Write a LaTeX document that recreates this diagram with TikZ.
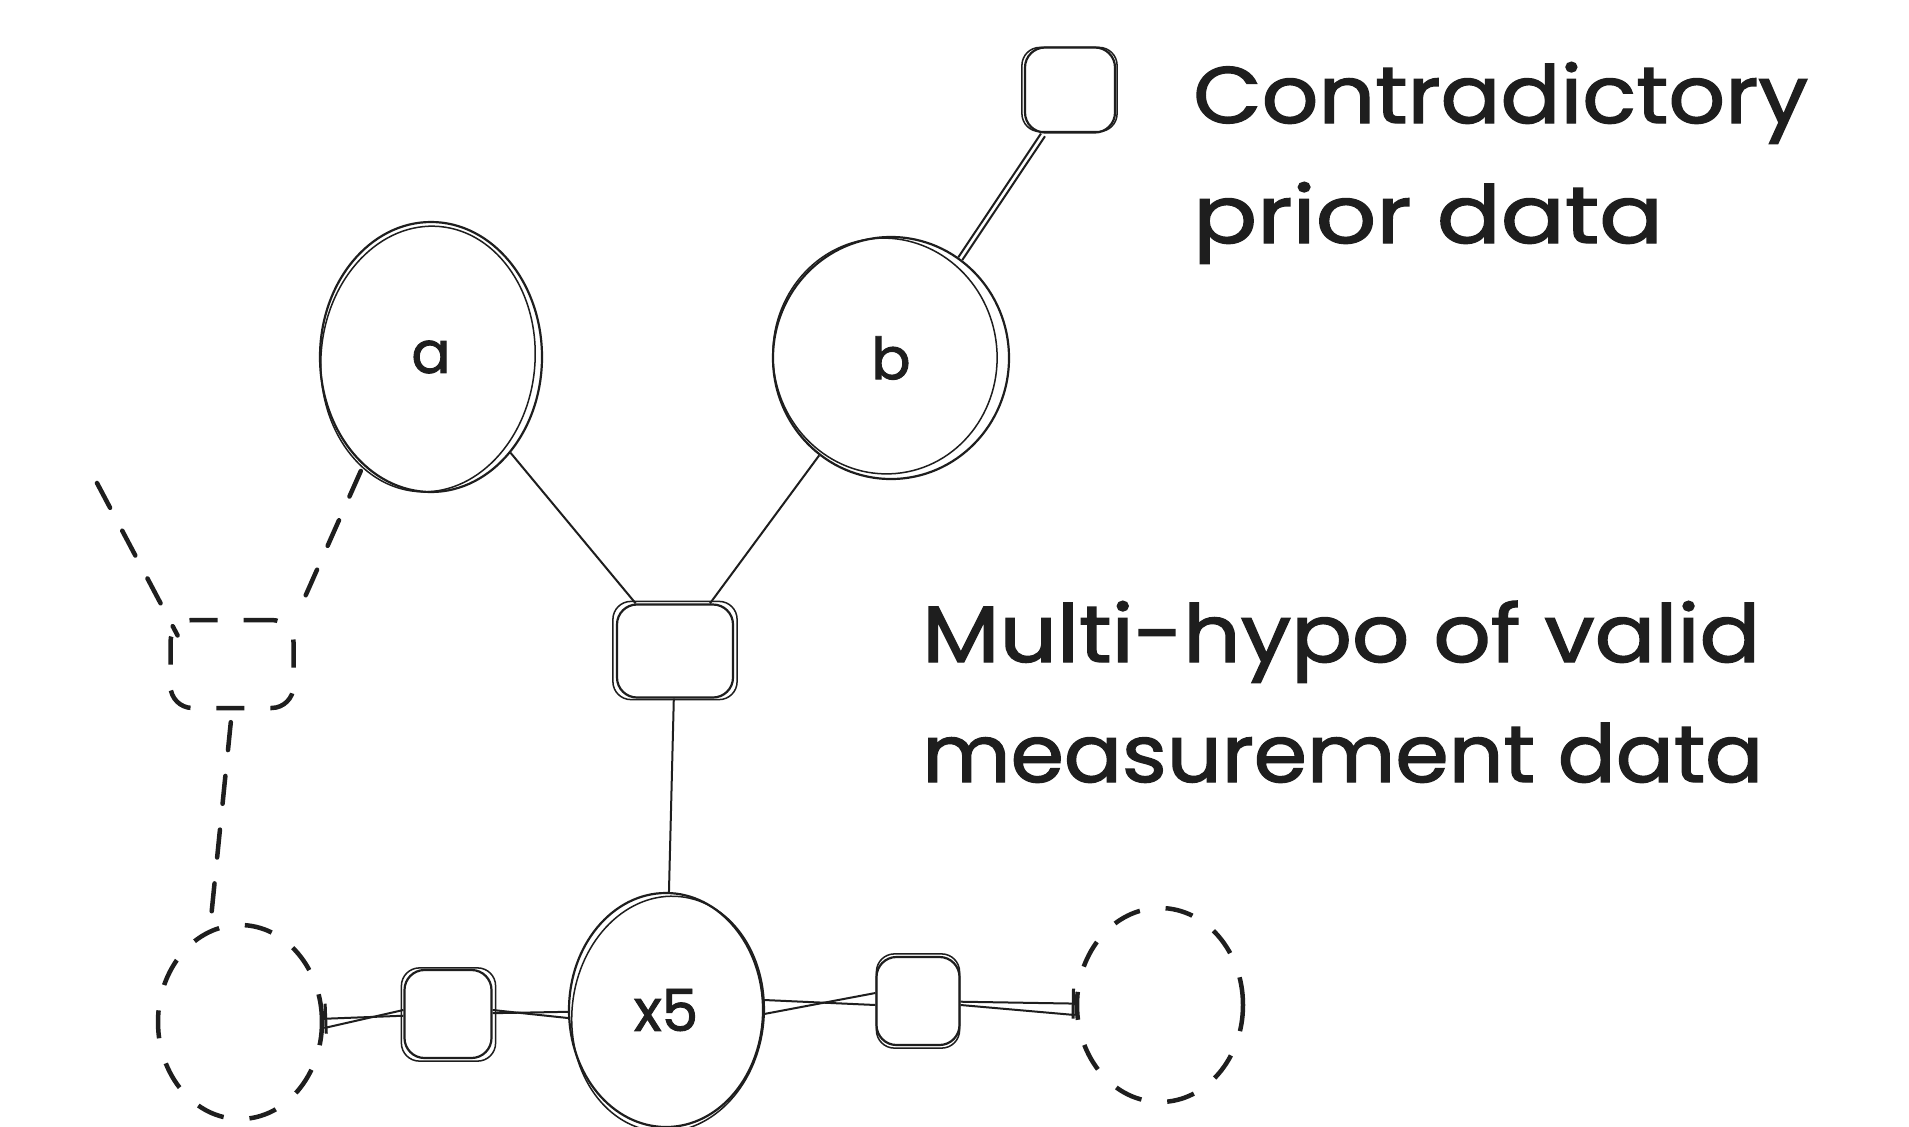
\documentclass[tikz,border=0pt]{standalone}
\usepackage{fontspec}
\setmainfont{Poppins}
\newfontfamily\handfont{Poppins}[FakeBold=1.6]
\usetikzlibrary{shapes.geometric,arrows.meta}
\definecolor{inkc}{HTML}{1E1E1E}
\newcommand\fitw[2]{\resizebox{#1}{\height}{#2}}
\tikzset{
  ink/.style={draw=inkc, line width=2.2pt},
  faint/.style={draw=inkc, line width=1.5pt},
  bubble/.style={ellipse, ink, inner sep=0pt, text=inkc, font=\handfont\fontsize{58pt}{70pt}\selectfont},
  box/.style={rectangle, ink, rounded corners=20pt, inner sep=0pt},
  ghost/.style={draw=inkc, line width=4.5pt, dash pattern=on 28pt off 26pt, line cap=round},
  wire/.style={draw=inkc, line width=2pt},
  caption/.style={anchor=base west, inner sep=0pt, text=inkc, font=\handfont\fontsize{80pt}{96pt}\selectfont},
  endbar/.tip={Bar[width=30pt, line width=3pt]},
}
\begin{document}
\begin{tikzpicture}[x=1pt, y=-1pt]
\useasboundingbox (0,0) rectangle (1909,1127);
\clip (0,0) rectangle (1909,1127);
\fill[white] (0,0) rectangle (1909,1127);

% variable nodes
\node[bubble, minimum width=222pt, minimum height=270pt] (a) at (431,357) {a};
\draw[faint] ([shift={(-3,2)}]a.center) ellipse [x radius=107pt, y radius=133pt, rotate=-5];
\node[bubble, minimum width=236pt, minimum height=242pt] (b) at (891,358) {b};
\draw[faint] ([shift={(-6,-2)}]b.center) ellipse [x radius=112pt, y radius=118pt, rotate=8];
\node[bubble, minimum width=194pt, minimum height=234pt] (x5) at (666,1010) {x5};
\draw[faint] ([shift={(2,4)}]x5.center) ellipse [x radius=96pt, y radius=118pt, rotate=-6];
\node[ellipse, draw=inkc, line width=4.5pt, dash pattern=on 28pt off 26pt, inner sep=0pt,
      minimum width=164pt, minimum height=194pt] (lc) at (240,1022) {};
\node[ellipse, draw=inkc, line width=4.5pt, dash pattern=on 28pt off 26pt, inner sep=0pt,
      minimum width=166pt, minimum height=194pt] (rc) at (1160,1005) {};

% factor nodes
\node[box, minimum width=90pt, minimum height=85pt] (t) at (1070,90) {};
\draw[faint, rounded corners=18pt] ([shift={(-2,1)}]t.north west) rectangle ([shift={(1,-2)}]t.south east);
\node[box, minimum width=116pt, minimum height=93pt] (m) at (675,651) {};
\draw[faint, rounded corners=18pt] ([shift={(-3,-2)}]m.north west) rectangle ([shift={(3,1)}]m.south east);
\node[box, minimum width=87pt, minimum height=88pt] (lsq) at (448,1014) {};
\draw[faint, rounded corners=18pt] ([shift={(-2,-1)}]lsq.north west) rectangle ([shift={(3,2)}]lsq.south east);
\node[box, minimum width=83pt, minimum height=88pt] (rsq) at (918,1001) {};
\draw[faint, rounded corners=18pt] ([shift={(1,-2)}]rsq.north west) rectangle ([shift={(-1,2)}]rsq.south east);
\node[rectangle, draw=inkc, line width=4.5pt, dash pattern=on 28pt off 26pt, rounded corners=22pt,
      inner sep=0pt, minimum width=123pt, minimum height=88pt] (d) at (232,664) {};

% solid connectors
\draw[wire] (a) -- (m);
\draw[wire] (b) -- (m);
\draw[wire] (m) -- (x5);
\draw[wire] (b) -- (t);
\draw[wire, transform canvas={shift={(4pt,-2.7pt)}}] (b) -- (t);
\draw[wire, {endbar}-] (lc) -- (lsq);
\draw[wire] ([yshift=-6pt]lc.east) -- ([yshift=4pt]lsq.west);
\draw[wire] (lsq) -- (x5);
\draw[wire] ([yshift=4pt]lsq.east) -- ([yshift=-8pt]x5.west);
\draw[wire] ([yshift=10pt]x5.east) -- ([yshift=-4pt]rsq.west);
\draw[wire] ([yshift=-4pt]x5.east) -- ([yshift=8pt]rsq.west);
\draw[wire, -{endbar}] (rsq) -- (rc);
\draw[wire] ([yshift=-4pt]rsq.east) -- ([yshift=-10pt]rc.west);

% dashed connectors
\coordinate (loose) at (97,483);
\draw[ghost, shorten <=6pt] (a.238) -- (d.north east);
\draw[ghost, shorten >=-20pt] (loose) -- (d.north west);
\draw[ghost, shorten <=12pt] (d.south) -- (lc.108);

% captions
\node[caption] (c1) at (1193,123) {\fitw{615pt}{Contradictory}};
\node[caption] (c2) at (1193,243) {\fitw{470pt}{prior data}};
\node[caption] (c3) at (922,662) {\fitw{838pt}{Multi-hypo of valid}};
\node[caption] (c4) at (922,782) {\fitw{841pt}{measurement data}};
\end{tikzpicture}
\end{document}
